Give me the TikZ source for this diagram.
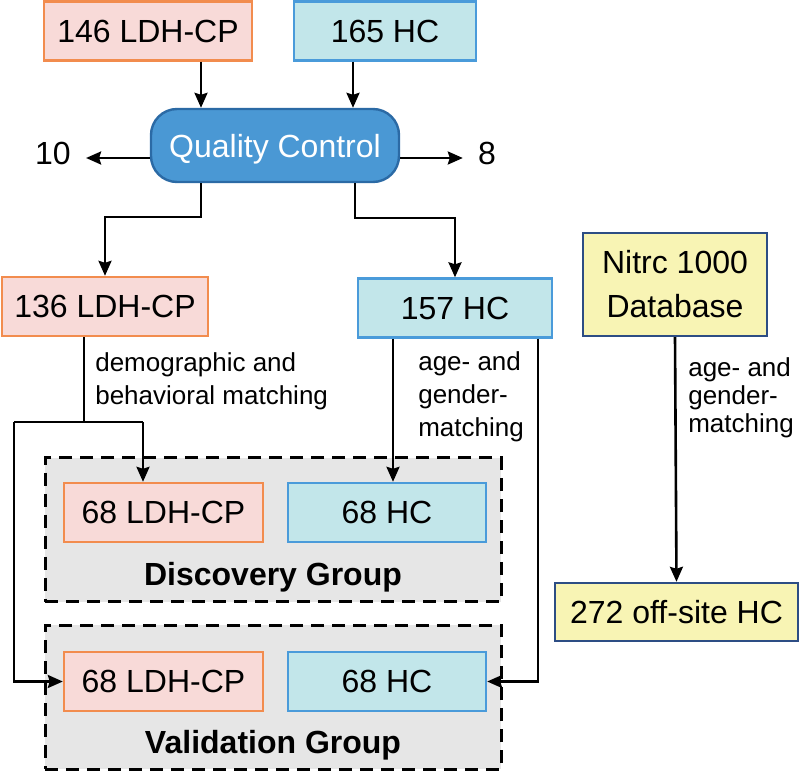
\documentclass[tikz,border=0pt]{standalone}
\usepackage{fontspec}
\setmainfont{Liberation Sans}
\usepackage{tikz}
\usetikzlibrary{arrows.meta, calc, positioning}
\definecolor{cpfill}{HTML}{F8DAD8}
\definecolor{cpline}{HTML}{F28C4E}
\definecolor{hcfill}{HTML}{C2E6EA}
\definecolor{hcline}{HTML}{4A9BDA}
\definecolor{qcfill}{HTML}{4A98D4}
\definecolor{qcline}{HTML}{2B6AA5}
\definecolor{dbfill}{HTML}{F8F4B4}
\definecolor{dbline}{HTML}{2D4D84}
\definecolor{grpfill}{HTML}{E6E6E6}
\tikzset{>={Stealth[length=15pt,width=13pt,inset=2pt]},
	bigtxt/.style={font=\fontsize{32}{38}\selectfont},
	cpbox/.style={bigtxt, draw=cpline, fill=cpfill, line width=2.4pt, minimum height=59pt},
	hcbox/.style={bigtxt, draw=hcline, fill=hcfill, line width=2.4pt, minimum height=59pt},
	dbbox/.style={bigtxt, draw=dbline, fill=dbfill, line width=2.4pt, minimum height=58pt, align=center},
	qcbox/.style={bigtxt, draw=qcline, fill=qcfill, text=white, line width=2.4pt, rounded corners=26pt, minimum width=248pt, minimum height=73pt, text depth=0pt},
	grpbox/.style={draw, fill=grpfill, line width=3pt, dash pattern=on 13pt off 8pt, minimum width=456pt, minimum height=144pt},
	grplbl/.style={font=\fontsize{32}{38}\selectfont\bfseries},
	numtxt/.style={bigtxt, inner xsep=14pt, inner ysep=0pt},
	sidetxt/.style={font=\fontsize{26}{33}\selectfont, align=left, inner sep=0pt, anchor=west}
}

\begin{document}
\begin{tikzpicture}[x=1pt, y=-1pt, line width=2.6pt]
	\useasboundingbox (0,0) rectangle (800,771);
	\node[grpbox] (disc) at (273,529.5) {};
	\node[grpbox] (valid) at (273,697) {};
	\node[grplbl] (discl) at (273,577) {Discovery Group};
	\node[grplbl] (validl) at (273,745) {Validation Group};

	\node[cpbox, minimum width=208pt] (ldhA) at (148,31) {146 LDH-CP};
	\node[hcbox, minimum width=182pt] (hcA) at (385,31) {165 HC};
	\node[qcbox] (qc) at (275,145.5) {Quality Control};
	\node[numtxt] (out10) at (53,153) {10};
	\node[numtxt] (out8) at (487,153) {8};
	\node[cpbox, minimum width=206pt] (ldhB) at (105,306.5) {136 LDH-CP};
	\node[hcbox, minimum width=194pt] (hcB) at (455,308) {157 HC};
	\node[dbbox, minimum width=184pt, minimum height=103pt, font=\fontsize{32}{44}\selectfont] (nitrc) at (675,284.5) {Nitrc 1000\\Database};
	\node[dbbox, minimum width=243pt] (offsite) at (676.5,612) {272 off-site HC};
	\node[cpbox, minimum width=199pt] (ldhD) at (163.5,512.5) {68 LDH-CP};
	\node[hcbox, minimum width=198pt] (hcD) at (387,512.5) {68 HC};
	\node[cpbox, minimum width=199pt] (ldhV) at (163.5,681.5) {68 LDH-CP};
	\node[hcbox, minimum width=198pt] (hcV) at (387,681.5) {68 HC};

	\node[sidetxt] (lblL) at (94,381) {demographic and\\behavioral matching};
	\node[sidetxt] (lblM) at (417,397) {age- and\\gender-\\matching};
	\node[sidetxt, font=\fontsize{26}{28}\selectfont] (lblR) at (687,398) {age- and\\gender-\\matching};

	\coordinate (inL) at (201,0);
	\coordinate (inR) at (353,0);
	\coordinate (qcL) at (201,217);
	\coordinate (qcR) at (355,218);
	\coordinate (mL) at (84,422);
	\coordinate (brA) at (14,422);
	\coordinate (brB) at (143,422);
	\coordinate (mR) at (393,0);
	\coordinate (rR) at (538,0);

	\draw[->] (ldhA.south -| inL) -- (qc.north -| inL);
	\draw[->] (hcA.south -| inR) -- (qc.north -| inR);
	\draw[->] ([yshift=-5pt]out10.east -| qc.west) -- ([yshift=-5pt]out10.east);
	\draw[->] ([yshift=-5pt]out8.west -| qc.east) -- ([yshift=-5pt]out8.west);
	\draw[->] (qc.south -| qcL) -- (qcL) -| (ldhB.north);
	\draw[->] (qc.south -| qcR) -- (qcR) -| (hcB.north);
	\draw (ldhB.south -| mL) -- (mL);
	\draw (brA) -- (brB);
	\draw[->] (brB) -- (ldhD.north -| brB);
	\draw[->] (brA) |- (ldhV.west);
	\draw[->] (hcB.south -| mR) -- (hcD.north -| mR);
	\draw[->] (hcB.south -| rR) |- (hcV.east);
	\draw[->] (nitrc.south) -- (offsite.north);
\end{tikzpicture}
\end{document}
